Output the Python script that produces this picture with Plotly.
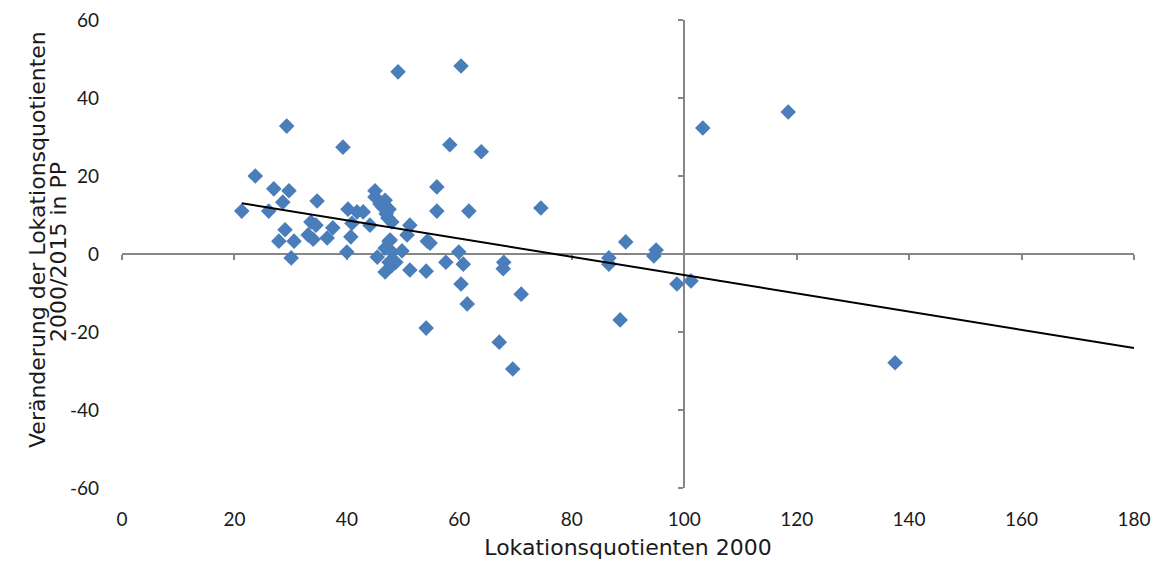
import plotly.graph_objects as go

# Lokationsquotienten 2000 (x) and change 2000/2015 in PP (y)
lq_2000 = [21.3, 23.7, 26.1, 27.0, 27.9, 28.6, 29.0, 29.7, 29.3, 30.1, 30.6,
           33.1, 33.6, 34.0, 34.5, 34.7, 36.5, 37.5, 39.3, 40.0, 40.2, 40.7,
           40.9, 41.8, 42.9, 44.1, 45.0, 45.0, 45.4, 45.9, 46.4, 46.8, 46.8,
           47.0, 47.3, 47.5, 47.5, 47.5, 48.0, 48.0, 48.7, 49.1, 49.8, 50.7,
           51.2, 51.2, 54.1, 54.1, 54.3, 54.8, 56.0, 56.0, 57.6, 58.3, 59.9,
           60.3, 60.3, 60.7, 61.4, 61.7, 63.9, 67.1, 67.9, 67.8, 69.5, 71.0,
           74.5, 86.6, 86.6, 88.6, 89.6, 94.6, 95.0, 98.7, 101.2, 103.3,
           118.5, 137.5, 47.7, 46.8, 48.1]
change_pp = [11.0, 20.0, 11.0, 16.7, 3.3, 13.3, 6.2, 16.2, 32.8, -1.0, 3.3,
             4.9, 8.2, 3.8, 7.4, 13.6, 4.1, 6.7, 27.4, 0.5, 11.5, 4.4,
             7.9, 10.8, 10.8, 7.4, 16.2, 14.6, -0.8, 12.8, 12.0, -4.6, 13.8,
             10.3, 9.2, 11.5, -2.1, 3.3, 0.5, 8.2, -2.1, 46.7, 0.8, 4.9,
             7.4, -4.1, -19.0, -4.4, 3.3, 2.8, 17.2, 11.0, -2.1, 28.0, 0.5,
             -7.7, 48.2, -2.6, -12.8, 11.0, 26.2, -22.6, -2.1, -3.8, -29.5, -10.3,
             11.8, -1.0, -2.6, -16.9, 3.1, -0.5, 1.0, -7.7, -6.9, 32.3,
             36.4, -27.9, 3.6, 1.5, -2.8]

# linear trendline (Excel trendline)
trend_slope = -0.234
trend_intercept = 18.0
trend_x = [21.3, 180]

x_ticks = [0, 20, 40, 60, 80, 100, 120, 140, 160, 180]
y_ticks = [-60, -40, -20, 0, 20, 40, 60]
y_tick_labels = ["-60", "-40", "-20", "0", "20", "40", "60"]

x_title = "Lokationsquotienten 2000"
y_title_lines = ["Veränderung der Lokationsquotienten", "2000/2015 in PP"]

trend_y = [trend_intercept + trend_slope * v for v in trend_x]

FONT = "Lato"
TFONT = "DejaVu Sans"
TXT = "#1a1a1a"
AX = "#868686"

fig = go.Figure()
fig.add_trace(go.Scatter(
    x=lq_2000, y=change_pp, mode="markers",
    marker=dict(symbol="diamond", size=12, color="#4A7EBB"),
    showlegend=False, hoverinfo="x+y"))
fig.add_trace(go.Scatter(
    x=trend_x, y=trend_y, mode="lines",
    line=dict(color="black", width=2), showlegend=False))
# invisible trace to activate the crossing axes
fig.add_trace(go.Scatter(x=[0, 180], y=[-60, 60], mode="markers",
                         marker=dict(opacity=0), xaxis="x2", yaxis="y2",
                         showlegend=False, hoverinfo="skip"))

fig.update_layout(
    width=1156, height=568,
    margin=dict(l=122, r=22, t=20, b=80),
    plot_bgcolor="white", paper_bgcolor="white",
    font=dict(family=FONT, size=19, color=TXT),
    xaxis=dict(range=[0, 180], tickvals=x_ticks, showgrid=False, zeroline=False,
               showline=False, ticks="", ticklabelstandoff=18, automargin=False,
               ticklabeloverflow="allow",
               title=dict(text=x_title, standoff=10,
                          font=dict(family=TFONT, size=22))),
    yaxis=dict(range=[-60, 60], tickvals=y_ticks, ticktext=y_tick_labels,
               showgrid=False, zeroline=False, automargin=False,
               showline=False, ticks="", ticklabelstandoff=22,
               ticklabeloverflow="allow"),
    xaxis2=dict(range=[0, 180], overlaying="x", anchor="free", position=0.5,
                tickvals=x_ticks, showticklabels=False, showgrid=False,
                zeroline=False, showline=True, linecolor=AX, linewidth=2,
                ticks="outside", ticklen=5, tickwidth=1.5, tickcolor=AX,
                layer="below traces"),
    yaxis2=dict(range=[-60, 60], overlaying="y", anchor="free",
                position=100 / 180, side="left",
                tickvals=y_ticks, showticklabels=False, showgrid=False,
                zeroline=False, showline=True, linecolor=AX, linewidth=2,
                ticks="outside", ticklen=5, tickwidth=1.5, tickcolor=AX,
                layer="below traces"),
)

for line, xs, ys in zip(y_title_lines, [-85, -64], [14, 2]):
    fig.add_annotation(text=line, xref="paper", yref="paper", x=0, y=0.5,
                       xanchor="center", yanchor="middle", xshift=xs, yshift=ys,
                       textangle=-90, showarrow=False,
                       font=dict(family=TFONT, size=22, color=TXT))

fig.write_html(
    "out.html",
    config={"displayModeBar": False},
    post_script="document.body.style.margin='0';"
                "document.body.style.overflow='hidden';"
                "document.documentElement.style.overflow='hidden';")
